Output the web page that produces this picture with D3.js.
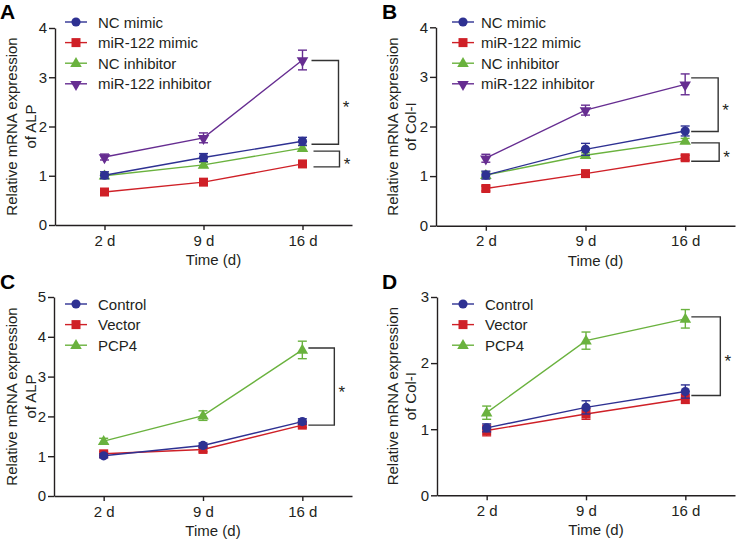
<!DOCTYPE html>
<html>
<head>
<meta charset="utf-8">
<script src="https://cdn.jsdelivr.net/npm/d3@7"></script>
<style>
  body { margin: 0; background: #fff; }
  svg { display: block; font-family: "Liberation Sans", Arial, sans-serif; }
</style>
</head>
<body>
<svg id="chart" width="736" height="542"></svg>
<script>
// ---------- data ----------
const days = ["2 d", "9 d", "16 d"];
const groupsAB = ["NC mimic", "miR-122 mimic", "NC inhibitor", "miR-122 inhibitor"];
const groupsCD = ["Control", "Vector", "PCP4"];

const alpAB    = [[1.01, 1.37, 1.70], [0.67, 0.87, 1.24], [1.00, 1.22, 1.56], [1.38, 1.77, 3.35]];
const alpABerr = [[0.07, 0.08, 0.08], [0.05, 0.05, 0.05], [0.05, 0.05, 0.05], [0.06, 0.10, 0.20]];
const colAB    = [[1.02, 1.54, 1.91], [0.75, 1.05, 1.37], [1.02, 1.42, 1.71], [1.36, 2.33, 2.85]];
const colABerr = [[0.08, 0.12, 0.10], [0.05, 0.05, 0.05], [0.06, 0.05, 0.05], [0.08, 0.10, 0.21]];
const alpCD    = [[1.01, 1.27, 1.87], [1.06, 1.17, 1.78], [1.38, 2.02, 3.67]];
const alpCDerr = [[0.05, 0.06, 0.07], [0.05, 0.06, 0.06], [0.07, 0.12, 0.22]];
const colCD    = [[1.02, 1.33, 1.57], [0.98, 1.23, 1.46], [1.25, 2.34, 2.67]];
const colCDerr = [[0.06, 0.10, 0.10], [0.08, 0.08, 0.07], [0.10, 0.13, 0.14]];

const ticksA = [0, 1, 2, 3, 4];
const ticksB = [0, 1, 2, 3, 4];
const ticksC = [0, 1, 2, 3, 4, 5];
const ticksD = [0, 1, 2, 3];

// significance brackets at 16 d: [upper value, lower value]
const bracketsA = [[3.34, 1.64], [1.50, 1.18]];
const bracketsB = [[2.98, 1.90], [1.67, 1.30]];
const bracketsC = [[3.72, 1.78]];
const bracketsD = [[2.70, 1.51]];

// ---------- styles ----------
const colorsAB = ["#2e3192", "#cf2027", "#6ab23e", "#662d91"];
const colorsCD = ["#2e3192", "#cf2027", "#6ab23e"];
const shapesAB = ["circle", "square", "triangle", "triangleDown"];
const shapesCD = ["circle", "square", "triangle"];

const panels = [
  { letter: "A", lx: 0, ly: 19, x0: 55, x1: 352, yTop: 28, yBot: 225, ticks: ticksA,
    title: ["Relative mRNA expression", "of ALP"], tX: [17, 36],
    groups: groupsAB, vals: alpAB, errs: alpABerr, colors: colorsAB, shapes: shapesAB,
    legX: 76, legY: 22, legTx: 98, brackets: bracketsA, bx: [[9, 36], [11, 37]] },
  { letter: "B", lx: 382, ly: 19, x0: 436, x1: 735, yTop: 27.3, yBot: 225.7, ticks: ticksB,
    title: ["Relative mRNA expression", "of Col-I"], tX: [398, 416],
    groups: groupsAB, vals: colAB, errs: colABerr, colors: colorsAB, shapes: shapesAB,
    legX: 463, legY: 22, legTx: 481, brackets: bracketsB, bx: [[6, 33], [6, 34]] },
  { letter: "C", lx: 0, ly: 289, x0: 54, x1: 352, yTop: 297, yBot: 496, ticks: ticksC,
    title: ["Relative mRNA expression", "of ALP"], tX: [17, 36],
    groups: groupsCD, vals: alpCD, errs: alpCDerr, colors: colorsCD, shapes: shapesCD,
    legX: 76, legY: 304, legTx: 98, brackets: bracketsC, bx: [[6, 32]] },
  { letter: "D", lx: 382, ly: 289, x0: 437, x1: 735, yTop: 297, yBot: 495.3, ticks: ticksD,
    title: ["Relative mRNA expression", "of Col-I"], tX: [398, 416],
    groups: groupsCD, vals: colCD, errs: colCDerr, colors: colorsCD, shapes: shapesCD,
    legX: 463, legY: 304, legTx: 485, brackets: bracketsD, bx: [[6, 35]] }
];

const svg = d3.select("#chart");
const axisColor = "#231f20";
const fs = 15;

function symbolPath(shape) {
  if (shape === "circle") return d3.symbol(d3.symbolCircle, 66)();
  if (shape === "square") return d3.symbol(d3.symbolSquare, 81)();
  return d3.symbol(d3.symbolTriangle, 58)();
}
function symbolTransform(shape, x, y) {
  if (shape === "triangleDown") return `translate(${x},${y + 0.5}) rotate(180)`;
  if (shape === "triangle") return `translate(${x},${y + 0.5})`;
  return `translate(${x},${y})`;
}

panels.forEach(p => {
  const g = svg.append("g");
  const x = d3.scalePoint().domain(days).range([p.x0, p.x1]).padding(0.5);
  const ymax = p.ticks[p.ticks.length - 1];
  const y = d3.scaleLinear().domain([0, ymax]).range([p.yBot, p.yTop]);

  // panel letter
  g.append("text").attr("x", p.lx).attr("y", p.ly)
    .attr("font-size", 21).attr("font-weight", "bold").attr("fill", "#000")
    .text(p.letter);

  // y axis
  const yAxis = d3.axisLeft(y).tickValues(p.ticks).tickSize(6).tickSizeOuter(0).tickPadding(2)
    .tickFormat(d3.format("d"));
  const ya = g.append("g").attr("transform", `translate(${p.x0},0)`).call(yAxis);
  // x axis
  const xAxis = d3.axisBottom(x).tickSize(5).tickSizeOuter(0).tickPadding(5);
  const xa = g.append("g").attr("transform", `translate(0,${p.yBot})`).call(xAxis);
  [ya, xa].forEach(a => {
    a.select(".domain").attr("stroke", axisColor).attr("stroke-width", 1.4);
    a.selectAll(".tick line").attr("stroke", axisColor).attr("stroke-width", 1.4);
    a.selectAll(".tick text").attr("font-size", fs).attr("fill", "#231f20")
      .attr("font-family", "Liberation Sans, Arial, sans-serif");
  });

  // axis titles
  const midX = (x(days[0]) + x(days[days.length - 1])) / 2;
  g.append("text").attr("x", midX + 10).attr("y", p.yBot + 40)
    .attr("text-anchor", "middle").attr("font-size", fs).attr("fill", "#231f20")
    .text("Time (d)");
  const midY = (p.yTop + p.yBot) / 2;
  p.title.forEach((t, i) => {
    g.append("text")
      .attr("transform", `translate(${p.tX[i]},${midY}) rotate(-90)`)
      .attr("text-anchor", "middle").attr("font-size", fs).attr("fill", "#231f20")
      .text(t);
  });

  // series (drawn last-first so the first series sits on top)
  const line = d3.line().x((d, i) => x(days[i])).y(d => y(d));
  const order = d3.range(p.groups.length).reverse();
  order.forEach(si => {
    const c = p.colors[si];
    const sg = g.append("g");
    sg.append("path").datum(p.vals[si]).attr("d", line)
      .attr("fill", "none").attr("stroke", c).attr("stroke-width", 1.4);
    p.vals[si].forEach((v, i) => {
      const e = p.errs[si][i];
      const cx = x(days[i]);
      sg.append("line").attr("x1", cx).attr("x2", cx).attr("y1", y(v - e)).attr("y2", y(v + e))
        .attr("stroke", c).attr("stroke-width", 1.4);
      [v - e, v + e].forEach(ev => {
        sg.append("line").attr("x1", cx - 4.5).attr("x2", cx + 4.5).attr("y1", y(ev)).attr("y2", y(ev))
          .attr("stroke", c).attr("stroke-width", 1.4);
      });
      sg.append("path").attr("d", symbolPath(p.shapes[si]))
        .attr("transform", symbolTransform(p.shapes[si], cx, y(v)))
        .attr("fill", c);
    });
  });

  // legend
  p.groups.forEach((name, i) => {
    const ly = p.legY + i * 20.6;
    const c = p.colors[i];
    g.append("line").attr("x1", p.legX - 11).attr("x2", p.legX + 11).attr("y1", ly).attr("y2", ly)
      .attr("stroke", c).attr("stroke-width", 1.4);
    g.append("path").attr("d", symbolPath(p.shapes[i]))
      .attr("transform", symbolTransform(p.shapes[i], p.legX, ly)).attr("fill", c);
    g.append("text").attr("x", p.legTx).attr("y", ly + 5.5)
      .attr("font-size", fs).attr("fill", "#231f20").text(name);
  });

  // significance brackets
  const x16 = x(days[days.length - 1]);
  p.brackets.forEach((b, i) => {
    const xs = x16 + p.bx[i][0], xv = x16 + p.bx[i][1];
    const y1 = y(b[0]), y2 = y(b[1]);
    g.append("path").attr("d", `M${xs},${y1}H${xv}V${y2}H${xs}`)
      .attr("fill", "none").attr("stroke", "#333").attr("stroke-width", 1.4);
    g.append("text").attr("x", xv + 7.5).attr("y", (y1 + y2) / 2 + 11)
      .attr("text-anchor", "middle").attr("font-size", 17).attr("fill", "#231f20").text("*");
  });
});
</script>
</body>
</html>
